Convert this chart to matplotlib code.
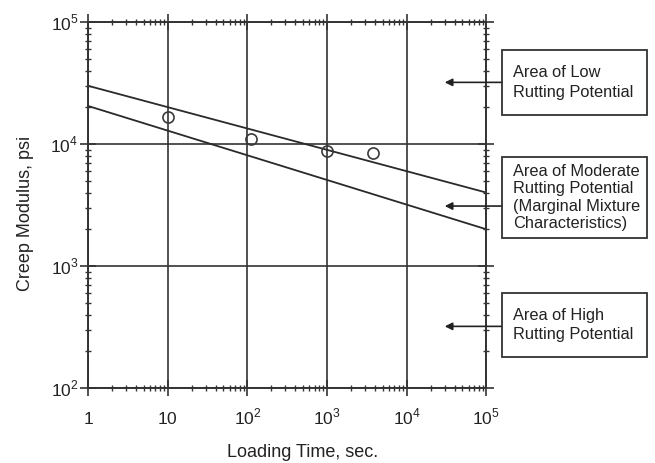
import matplotlib
matplotlib.use("Agg")
import matplotlib.pyplot as plt
from matplotlib.patches import Rectangle
from matplotlib.ticker import LogLocator, FixedLocator, FixedFormatter, NullFormatter
import numpy as np

plt.rcParams['font.family'] = ['Liberation Sans', 'DejaVu Sans']
plt.rcParams['mathtext.fontset'] = 'custom'
plt.rcParams['mathtext.rm'] = 'Liberation Sans'

# Measured creep modulus points
time_s = [10, 110, 1000, 3800]
modulus_psi = [16500, 11000, 8800, 8400]

# Boundary lines between rutting-potential regions (end points)
line_time = [1, 1e5]
upper_limit = [30000, 4000]
lower_limit = [20500, 2000]

x_ticks = [1, 10, 1e2, 1e3, 1e4, 1e5]
x_tick_labels = [r'$\mathrm{1}$', r'$\mathrm{10}$', r'$\mathrm{10}^{2}$',
                 r'$\mathrm{10}^{3}$', r'$\mathrm{10}^{4}$', r'$\mathrm{10}^{5}$']
y_ticks = [1e2, 1e3, 1e4, 1e5]
y_tick_labels = [r'$\mathrm{10}^{2}$', r'$\mathrm{10}^{3}$',
                 r'$\mathrm{10}^{4}$', r'$\mathrm{10}^{5}$']

region_labels = ['Area of Low\nRutting Potential',
                 'Area of Moderate\nRutting Potential\n(Marginal Mixture\nCharacteristics)',
                 'Area of High\nRutting Potential']
# modulus level each arrow points at
region_arrow_modulus = [32000, 3100, 320]
# box placement in figure fraction: (bottom, height), and text line spacing
region_boxes = [(0.7516, 0.1404), (0.486, 0.175), (0.229, 0.138)]
region_spacing = [1.45, 1.2, 1.3]

fig = plt.figure(figsize=(6.55, 4.63), dpi=100)
ax = fig.add_axes([0.1344, 0.162, 0.608, 0.7905])
ax.set_xscale('log')
ax.set_yscale('log')
ax.set_xlim(1, 1e5)
ax.set_ylim(1e2, 1e5)

ink = '#2a2a2a'
ax.plot(line_time, upper_limit, color=ink, lw=1.3)
ax.plot(line_time, lower_limit, color=ink, lw=1.3)
ax.plot(time_s, modulus_psi, linestyle='none', marker='o', ms=8,
        mfc='none', mec='#3a3a3a', mew=1.2)

ax.grid(True, which='major', color='#333333', lw=1.2)
for s in ax.spines.values():
    s.set_color('#333333')
    s.set_linewidth(1.4)

ax.xaxis.set_major_locator(FixedLocator(x_ticks))
ax.xaxis.set_major_formatter(FixedFormatter(x_tick_labels))
ax.yaxis.set_major_locator(FixedLocator(y_ticks))
ax.yaxis.set_major_formatter(FixedFormatter(y_tick_labels))
for axis in (ax.xaxis, ax.yaxis):
    axis.set_minor_locator(LogLocator(base=10, subs=np.arange(2, 10), numticks=20))
    axis.set_minor_formatter(NullFormatter())
ax.tick_params(which='major', direction='inout', length=12, width=1.2,
               top=True, right=True, labelsize=12.5, colors='#333333',
               labelcolor='#222222')
ax.tick_params(axis='x', which='major', pad=20)
ax.tick_params(axis='y', which='major', pad=1)
ax.tick_params(which='minor', direction='inout', length=5, width=1.0,
               top=True, right=True, colors='#333333')
# put every x tick label on a common baseline
for lbl in ax.get_xticklabels():
    lbl.set_verticalalignment('baseline')

ax.set_xlabel('Loading Time, sec.', fontsize=13, color='#222222')
ax.set_ylabel('Creep Modulus, psi', fontsize=13, color='#222222')
ax.xaxis.set_label_coords(0.538, -0.152)
ax.yaxis.set_label_coords(-0.135, 0.478)

# Region annotation boxes with arrows pointing into the chart
box_left, box_width = 0.7664, 0.2214
for label, m, (b, h), ls in zip(region_labels, region_arrow_modulus,
                                region_boxes, region_spacing):
    fig.patches.append(Rectangle((box_left, b), box_width, h,
                                 transform=fig.transFigure, fill=False,
                                 ec='#333333', lw=1.3))
    fig.text(box_left + 0.017, b + h / 2, label, fontsize=11.8, color='#222222',
             va='center', ha='left', linespacing=ls)
    ax.annotate('', xy=(0.679, m), xytext=(box_left, m),
                xycoords=('figure fraction', 'data'),
                textcoords=('figure fraction', 'data'),
                arrowprops=dict(arrowstyle='-|>', color='#222222', lw=1.2,
                                mutation_scale=11, shrinkA=0, shrinkB=0),
                annotation_clip=False)

fig.savefig('out.png', dpi=100)
